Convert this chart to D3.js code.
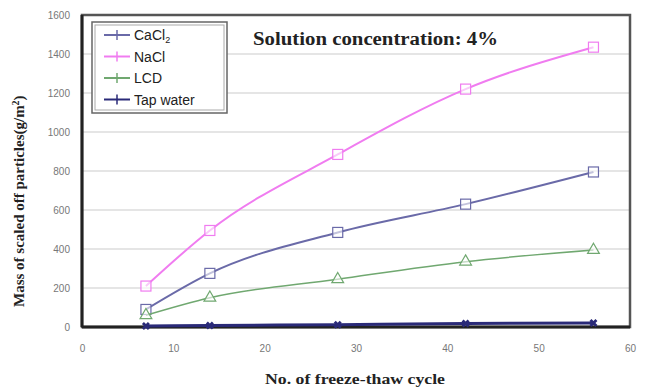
<!DOCTYPE html>
<html>
<head>
<meta charset="utf-8">
<script src="https://cdn.jsdelivr.net/npm/d3@7"></script>
<style>
  body { margin: 0; background: #fff; }
  svg { display: block; }
</style>
</head>
<body>
<svg width="649" height="392"></svg>
<script>
// data
const cycles   = [7, 14, 28, 42, 56];
const cacl2    = [90, 275, 485, 630, 795];
const nacl     = [210, 495, 885, 1220, 1435];
const lcd      = [60, 150, 245, 335, 395];
const tapWater = [5, 8, 12, 18, 20];

const xTicks = [0, 10, 20, 30, 40, 50, 60];
const yTicks = [0, 200, 400, 600, 800, 1000, 1200, 1400, 1600];

const series = [
  { name: "CaCl2", values: cacl2, color: "#6a6aa8", marker: "square", width: 2 },
  { name: "NaCl", values: nacl, color: "#f07cf0", marker: "square", width: 2 },
  { name: "LCD", values: lcd, color: "#70a870", marker: "triangle", width: 1.5 },
  { name: "Tap water", values: tapWater, color: "#2a2a78", marker: "star", width: 3 }
];

const svg = d3.select("svg");
const margin = { top: 15, right: 19, bottom: 65, left: 82 };
const W = 649 - margin.left - margin.right;
const H = 392 - margin.top - margin.bottom;

const g = svg.append("g").attr("transform", `translate(${margin.left},${margin.top})`);

const x = d3.scaleLinear().domain([0, 60]).range([0, W]);
const y = d3.scaleLinear().domain([0, 1600]).range([H, 0]);

// gridlines
g.selectAll("line.grid")
  .data(yTicks.slice(1))
  .join("line")
    .attr("class", "grid")
    .attr("x1", 0).attr("x2", W)
    .attr("y1", d => y(d)).attr("y2", d => y(d))
    .attr("stroke", "#dcdcdc").attr("stroke-width", 1.5);

// axes (tick labels only, small gray)
const xAxis = g.append("g")
  .attr("transform", `translate(0,${H})`)
  .call(d3.axisBottom(x).tickValues(xTicks).tickSize(0).tickPadding(18));
const yAxis = g.append("g")
  .call(d3.axisLeft(y).tickValues(yTicks).tickFormat(d3.format("d")).tickSize(0).tickPadding(12));
[xAxis, yAxis].forEach(a => {
  a.select(".domain").remove();
  a.selectAll("text")
    .attr("fill", "#777")
    .style("font-family", "Arial, 'Liberation Sans', sans-serif")
    .style("font-size", "10px");
});

// frame
g.append("rect")
  .attr("x", 0).attr("y", 0).attr("width", W).attr("height", H)
  .attr("fill", "none").attr("stroke", "#555").attr("stroke-width", 2.5);
g.append("line").attr("x1", 0).attr("x2", W).attr("y1", H).attr("y2", H)
  .attr("stroke", "#222").attr("stroke-width", 3);
g.append("line").attr("x1", 0).attr("x2", 0).attr("y1", 0).attr("y2", H)
  .attr("stroke", "#222").attr("stroke-width", 3);

// lines
const line = d3.line()
  .x((d, i) => x(cycles[i]))
  .y(d => y(d))
  .curve(d3.curveMonotoneX);

function marker(sel, s, px, py) {
  if (s.marker === "square") {
    sel.append("rect")
      .attr("x", px - 5).attr("y", py - 5).attr("width", 10).attr("height", 10)
      .attr("fill", "rgba(255,255,255,0.6)").attr("stroke", s.color).attr("stroke-width", 1.2);
  } else if (s.marker === "triangle") {
    sel.append("path")
      .attr("d", d3.symbol(d3.symbolTriangle, 60)())
      .attr("transform", `translate(${px},${py})`)
      .attr("fill", "rgba(255,255,255,0.6)").attr("stroke", s.color).attr("stroke-width", 1.2);
  } else {
    sel.append("path")
      .attr("d", d3.symbol(d3.symbolCross, 40)())
      .attr("transform", `translate(${px},${py}) rotate(45)`)
      .attr("fill", s.color);
  }
}

series.forEach(s => {
  g.append("path")
    .datum(s.values)
    .attr("fill", "none")
    .attr("stroke", s.color)
    .attr("stroke-width", s.width)
    .attr("d", line);
  const mg = g.append("g");
  s.values.forEach((v, i) => marker(mg, s, x(cycles[i]), y(v)));
});

// legend
const lg = svg.append("g").attr("transform", "translate(92,22)");
lg.append("rect").attr("width", 135).attr("height", 91)
  .attr("fill", "#fff").attr("stroke", "#666").attr("stroke-width", 1.5);
lg.append("rect").attr("x", 3).attr("y", 3).attr("width", 129).attr("height", 85)
  .attr("fill", "none").attr("stroke", "#aaa").attr("stroke-width", 1);
series.forEach((s, i) => {
  const yy = 13 + i * 21.5;
  lg.append("line").attr("x1", 12).attr("x2", 38).attr("y1", yy).attr("y2", yy)
    .attr("stroke", s.color).attr("stroke-width", 2);
  lg.append("line").attr("x1", 25).attr("x2", 25).attr("y1", yy - 5).attr("y2", yy + 5)
    .attr("stroke", s.color).attr("stroke-width", 1.5);
  const t = lg.append("text").attr("x", 42).attr("y", yy + 5)
    .style("font-family", "Arial, 'Liberation Sans', sans-serif")
    .style("font-size", "14px").attr("fill", "#222");
  if (s.name === "CaCl2") {
    t.text("CaCl");
    t.append("tspan").attr("dy", 3).style("font-size", "9px").text("2");
  } else {
    t.text(s.name);
  }
});

// title inside plot
svg.append("text")
  .attr("x", 253).attr("y", 45)
  .attr("textLength", 245).attr("lengthAdjust", "spacingAndGlyphs")
  .style("font-family", "'Liberation Serif', 'Times New Roman', serif")
  .style("font-weight", "bold").style("font-size", "18px")
  .attr("fill", "#222")
  .text("Solution concentration: 4%");

// axis titles
svg.append("text")
  .attr("x", 265).attr("y", 384)
  .attr("textLength", 180).attr("lengthAdjust", "spacingAndGlyphs")
  .style("font-family", "'Liberation Serif', 'Times New Roman', serif")
  .style("font-weight", "bold").style("font-size", "15px")
  .attr("fill", "#222")
  .text("No. of  freeze-thaw cycle");

const yl = svg.append("text")
  .attr("transform", "translate(24,307) rotate(-90)")
  .style("font-family", "'Liberation Serif', 'Times New Roman', serif")
  .style("font-weight", "bold").style("font-size", "15px")
  .attr("fill", "#222")
  .text("Mass of scaled off particles(g/m");
yl.append("tspan").attr("dy", -5).style("font-size", "10px").text("2");
yl.append("tspan").attr("dy", 5).text(")");
</script>
</body>
</html>
